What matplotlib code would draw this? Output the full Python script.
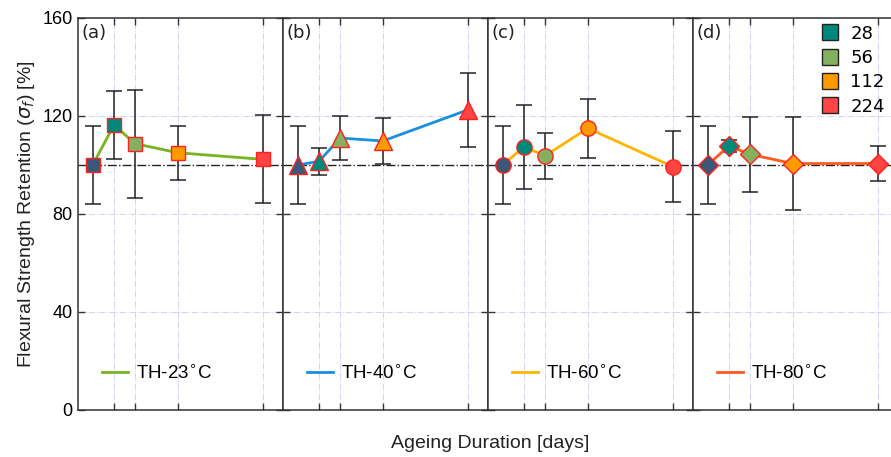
import matplotlib
matplotlib.use('Agg')
from matplotlib import pyplot as plt
from matplotlib.lines import Line2D

plt.rcParams['font.family'] = ['Liberation Sans', 'DejaVu Sans']
plt.rcParams['mathtext.fontset'] = 'dejavusans'

# ageing durations (days)
days = [0, 28, 56, 112, 224]

# flexural strength retention [%] and error (+/-)
th23 = [100, 116.3, 108.7, 105.0, 102.3]
th23_err = [16, 14, 22, 11, 18]
th40 = [100, 101.5, 111.0, 109.8, 122.5]
th40_err = [16, 5.5, 8.8, 9.4, 15]
th60 = [100, 107.4, 103.8, 115.0, 99.3]
th60_err = [16, 17, 9.4, 12, 14.5]
th80 = [100, 107.8, 104.3, 100.6, 100.6]
th80_err = [16, 2.5, 15.3, 19, 7]

panel_labels = ['(a)', '(b)', '(c)', '(d)']
series_labels = ['TH-23$^{\\circ}$C', 'TH-40$^{\\circ}$C', 'TH-60$^{\\circ}$C', 'TH-80$^{\\circ}$C']
line_colors = ['#78b41e', '#1a8fe0', '#ffb400', '#ff5a1e']
markers = ['s', '^', 'o', 'D']
marker_sizes = [10, 13, 11, 10]
point_colors = ['#3c5878', '#00897a', '#84b060', '#ff9a00', '#ff4444']
legend_days = ['28', '56', '112', '224']

values = [th23, th40, th60, th80]
errors = [th23_err, th40_err, th60_err, th80_err]

fig = plt.figure(figsize=(8.91, 4.57), dpi=100)

left, bottom, width, height = 78 / 891, 1 - 410 / 457, 205 / 891, 392 / 457
for i in range(4):
    ax = fig.add_axes([left + i * width, bottom, width, height])
    ax.set_xlim(-19.3, 250.4)
    ax.set_ylim(0, 160)
    ax.set_xticks(days[1:])
    ax.set_xticklabels([])
    ax.set_yticks([0, 40, 80, 120, 160])
    if i > 0:
        ax.set_yticklabels([])
    ax.tick_params(direction='in', top=True, right=True, length=5, width=1,
                   color='#333333', labelsize=13, pad=4)
    ax.grid(True, color='#d0d0ff', linestyle='-.', linewidth=0.7)
    for s in ax.spines.values():
        s.set_color('#333333')
        s.set_linewidth(1.1)

    ax.axhline(100, color='#222222', linestyle='-.', linewidth=1, zorder=2)
    ax.errorbar(days, values[i], yerr=errors[i], fmt='none', ecolor='#222222',
                elinewidth=1.1, capsize=5.5, capthick=1.1, zorder=3)
    line, = ax.plot(days, values[i], color=line_colors[i], linewidth=2, zorder=4)
    for d, v, c in zip(days, values[i], point_colors):
        ax.plot(d, v, marker=markers[i], markersize=marker_sizes[i],
                markerfacecolor=c, markeredgecolor='#ff2020', markeredgewidth=1,
                linestyle='none', zorder=5)

    ax.text(0.015, 0.985, panel_labels[i], transform=ax.transAxes, ha='left', va='top',
            fontsize=13, family='DejaVu Sans', color='#222222')

    if i == 3:
        handles = [Line2D([], [], marker='s', markersize=11, markerfacecolor=c,
                          markeredgecolor='#222222', linestyle='none')
                   for c in point_colors[1:]]
        leg = ax.legend(handles, legend_days, loc='upper left', bbox_to_anchor=(0.52, 1.015),
                        frameon=False, handletextpad=0.1, labelspacing=0.35,
                        borderaxespad=0.3, prop={'family': 'DejaVu Sans', 'size': 13})
        ax.add_artist(leg)

    ax.legend([line], [series_labels[i]], loc='center left', bbox_to_anchor=(0.08, 0.094),
              frameon=False, fontsize=13.5, handlelength=1.4, handletextpad=0.4,
              borderaxespad=0)

    if i == 0:
        ax.set_ylabel('Flexural Strength Retention ($\\sigma_f$) [%]', fontsize=14,
                      color='#222222', labelpad=4)

fig.text(490 / 891, 1 - 443 / 457, 'Ageing Duration [days]', ha='center', va='center',
         fontsize=14, color='#222222')

plt.savefig('out.png', dpi=100)
